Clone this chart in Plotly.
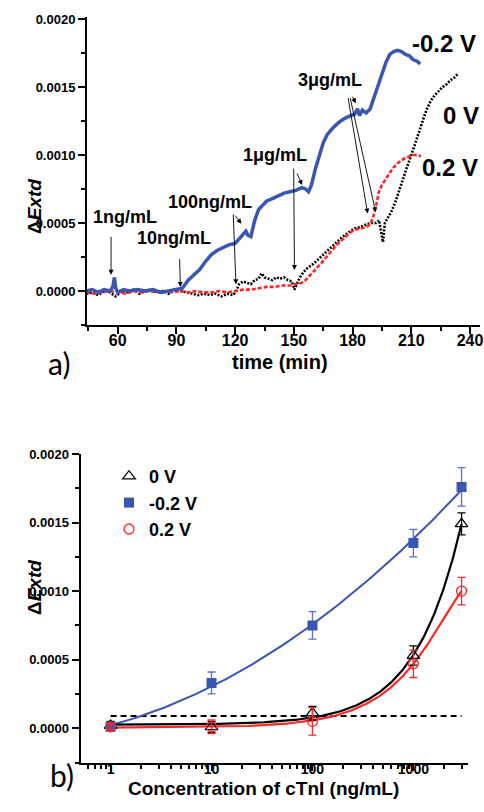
import numpy as np
import plotly.graph_objects as go

W, H = 484, 812

# ---------------- panel a) time traces ----------------
t_blue = [44, 47, 50, 53, 56, 57.5, 58.3, 59, 60, 63, 66, 70, 74, 78, 82, 86, 90, 93, 96, 99,
          102, 105, 108, 111, 114, 117, 120, 122, 124, 125.5, 126.5, 128, 130, 132, 134, 136,
          139, 142, 145, 148, 151, 154, 156, 157.5, 159, 161, 163, 165, 167, 170, 173, 176,
          179, 181, 182.5, 183.5, 185, 187, 189, 191, 193, 195, 197, 199, 201, 203, 205, 207,
          209, 211, 213, 214.5]
v_blue = [0.0, 0.00001, -0.00001, 0.00001, 0.0, 0.00003, 0.0001, 0.00002, -0.00001, 0.00001,
          0.0, 0.00001, 0.0, 0.00001, -0.00001, 0.0, 0.00001, 0.00002, 0.00008, 0.00012,
          0.00016, 0.00022, 0.00027, 0.0003, 0.00032, 0.00034, 0.00035, 0.00038, 0.00041,
          0.00044, 0.00041, 0.0004, 0.00052, 0.0006, 0.00063, 0.00066, 0.00068, 0.0007,
          0.00072, 0.00073, 0.00074, 0.00076, 0.00075, 0.00073, 0.00078, 0.0009, 0.001,
          0.00109, 0.00115, 0.0012, 0.00124, 0.00127, 0.00129, 0.0013, 0.00134, 0.00129,
          0.00133, 0.00131, 0.00134, 0.00143, 0.0015, 0.00159, 0.00168, 0.00174, 0.00176,
          0.00177, 0.00176, 0.00174, 0.00173, 0.0017, 0.00169, 0.00167]

t_black = [44, 47, 50, 53, 56, 59, 62, 65, 68, 71, 74, 77, 80, 83, 86, 89, 92, 95, 98, 101,
           104, 107, 110, 113, 116, 119, 120.5, 122, 124, 126, 128, 130, 132, 133.5, 135, 137,
           139, 141, 143, 145, 147, 149, 150.3, 151.5, 153, 155, 157, 160, 163, 166, 169, 172,
           175, 178, 181, 184, 187, 190, 192, 193.5, 194.5, 195.5, 196.5, 198, 200, 202, 204,
           206, 208, 210, 212, 214, 216, 218, 220, 222, 224, 226, 228, 230, 232, 234]
v_black = [-0.00002, -0.00001, -0.00003, 0.0, -0.00001, -0.00004, 0.0, -0.00001, 0.00001,
           -0.00002, 0.0, 0.00001, -0.00001, 0.0, -0.00002, 0.00001, 0.0, -0.00001, -0.00002,
           -0.00003, -0.00002, -0.00003, -0.00002, -0.00004, -0.00002, -0.00003, 0.0, 0.00005,
           0.00007, 0.00006, 0.00005, 0.00008, 0.00009, 0.00013, 0.0001, 0.00009, 0.00008,
           0.0001, 0.00009, 0.0001, 0.00008, 0.00007, 0.00001, 0.00005, 0.0001, 0.00014,
           0.00017, 0.0002, 0.00024, 0.00028, 0.00032, 0.00036, 0.0004, 0.00043, 0.00046,
           0.00047, 0.00049, 0.0005, 0.0005, 0.00052, 0.00044, 0.00036, 0.0005, 0.00054,
           0.00059, 0.00066, 0.00075, 0.00083, 0.00092, 0.001, 0.00108, 0.00117, 0.00126,
           0.00134, 0.0014, 0.00144, 0.00147, 0.0015, 0.00152, 0.00155, 0.00157, 0.0016]

t_red = [44, 48, 52, 56, 60, 64, 68, 72, 76, 80, 84, 88, 92, 96, 100, 104, 108, 112, 116, 120,
         124, 128, 132, 136, 140, 144, 148, 152, 154, 156, 158, 160, 163, 166, 169, 172, 175,
         178, 181, 184, 187, 189, 190.5, 192, 193.5, 195, 197, 199, 201, 203, 205, 207, 209,
         211, 213, 215]
v_red = [-0.00001, -0.00002, -0.00001, 0.0, -0.00001, -0.00002, 0.0, -0.00001, 0.0, -0.00001,
         0.0, -0.00001, 0.0, -0.00001, 0.0, -0.00001, -0.00001, 0.0, -0.00001, 0.0, 0.00001,
         0.00001, 0.00002, 0.00003, 0.00003, 0.00004, 0.00004, 0.00005, 0.00006, 0.00008,
         0.00011, 0.00014, 0.00019, 0.00024, 0.00029, 0.00034, 0.00038, 0.00042, 0.00045,
         0.00046, 0.00047, 0.00049, 0.00054, 0.00063, 0.00073, 0.00078, 0.00083, 0.00087,
         0.00091, 0.00094, 0.00096, 0.00098, 0.00099, 0.001, 0.001, 0.00099]

# injection labels (text, label time, label value)
inj_text = ["1ng/mL", "10ng/mL", "100ng/mL", "1\u03bcg/mL", "3\u03bcg/mL"]
inj_label_t = [63.5, 88.5, 107, 140.5, 168.5]
inj_label_v = [0.000545, 0.00039, 0.000655, 0.001, 0.00155]
# arrows: (tail t, tail v, head t, head v)
arrows = [
    (56.6, 0.00041, 56.6, 0.00012),
    (91.6, 0.000245, 92.0, 0.00003),
    (119.0, 0.000575, 120.4, 0.00005),
    (119.4, 0.000565, 123.2, 0.000495),
    (149.9, 0.00091, 150.3, 0.000155),
    (151.3, 0.000875, 154.2, 0.00078),
    (177.6, 0.00143, 187.7, 0.00057),
    (178.6, 0.00143, 191.8, 0.00058),
    (179.6, 0.00144, 181.6, 0.00138),
]
series_labels = ["-0.2 V", "0 V", "0.2 V"]
series_label_t = [226.5, 235.5, 230]
series_label_v = [0.00182, 0.00129, 0.00091]

# ---------------- panel b) calibration ----------------
conc = [1, 10, 100, 1000, 3000]
y_0V = [0.00002, 0.00001, 0.00011, 0.00053, 0.00149]
e_0V = [0.00003, 0.00004, 0.00005, 0.00007, 0.00008]
y_m02 = [0.00001, 0.00033, 0.00075, 0.00135, 0.00176]
e_m02 = [0.00003, 0.00008, 0.0001, 0.0001, 0.00014]
y_p02 = [0.00001, 0.00001, 0.00005, 0.00047, 0.0010]
e_p02 = [0.00002, 0.00005, 0.0001, 0.0001, 0.0001]
lod = 0.00009

BLUE = "#3b55b2"
RED = "#ff2626"
FONT = "Liberation Sans, Arial, sans-serif"

fig = go.Figure()

# ---- panel a traces ----
fig.add_trace(go.Scatter(x=t_black, y=v_black, mode="lines", xaxis="x", yaxis="y",
                         line=dict(color="black", width=2.6, dash="2px,1.5px"), showlegend=False))
fig.add_trace(go.Scatter(x=t_red, y=v_red, mode="lines", xaxis="x", yaxis="y",
                         line=dict(color=RED, width=2.6, dash="4px,2px"), showlegend=False))
fig.add_trace(go.Scatter(x=t_blue, y=v_blue, mode="lines", xaxis="x", yaxis="y",
                         line=dict(color=BLUE, width=3.5), showlegend=False))

# ---- panel b fits ----
xs = np.logspace(0, np.log10(conc[-1]), 300)
p_blue = np.polyfit(np.log10(conc), y_m02, 2)
p_black = np.polyfit(conc, y_0V, 2)
p_red = np.polyfit(conc, y_p02, 2)
fig.add_trace(go.Scatter(x=[conc[0], conc[-1]], y=[lod, lod], mode="lines", xaxis="x2", yaxis="y2",
                         line=dict(color="black", width=2, dash="6px,4px"), showlegend=False))
fig.add_trace(go.Scatter(x=xs, y=np.polyval(p_blue, np.log10(xs)), mode="lines", xaxis="x2", yaxis="y2",
                         line=dict(color=BLUE, width=2), showlegend=False))
fig.add_trace(go.Scatter(x=xs, y=np.polyval(p_black, xs), mode="lines", xaxis="x2", yaxis="y2",
                         line=dict(color="black", width=2.2), showlegend=False))
fig.add_trace(go.Scatter(x=xs, y=np.polyval(p_red, xs), mode="lines", xaxis="x2", yaxis="y2",
                         line=dict(color=RED, width=2.2), showlegend=False))

fig.add_trace(go.Scatter(x=conc, y=y_0V, mode="markers", name="0 V", xaxis="x2", yaxis="y2",
                         marker=dict(symbol="triangle-up-open", size=11, color="black",
                                     line=dict(width=1.3)),
                         error_y=dict(type="data", array=e_0V, color="black", thickness=1.3, width=4)))
fig.add_trace(go.Scatter(x=conc, y=y_m02, mode="markers", name="-0.2 V", xaxis="x2", yaxis="y2",
                         marker=dict(symbol="square", size=10, color=BLUE),
                         error_y=dict(type="data", array=e_m02, color="#5a72c4", thickness=1.3, width=4)))
fig.add_trace(go.Scatter(x=conc, y=y_p02, mode="markers", name="0.2 V", xaxis="x2", yaxis="y2",
                         marker=dict(symbol="circle-open", size=10, color=RED, line=dict(width=1.3)),
                         error_y=dict(type="data", array=e_p02, color=RED, thickness=1.3, width=4)))

def px_x(p):
    return p / W

def px_y(p):
    return 1 - p / H

axis_common = dict(showline=True, linewidth=2, linecolor="black", ticks="outside",
                   tickwidth=2, tickcolor="black", showgrid=False, zeroline=False,
                   automargin=False, ticklabeloverflow="allow")

annotations = []
for txt, t, v in zip(inj_text, inj_label_t, inj_label_v):
    annotations.append(dict(x=t, y=v, xref="x", yref="y", text="<b>%s</b>" % txt, showarrow=False,
                            font=dict(family=FONT, size=18, color="black")))
for (ta, va, th, vh) in arrows:
    annotations.append(dict(x=th, y=vh, ax=ta, ay=va, xref="x", yref="y", axref="x", ayref="y",
                            text="", showarrow=True, arrowhead=2, arrowsize=1.1, arrowwidth=0.9,
                            arrowcolor="black"))
for txt, t, v in zip(series_labels, series_label_t, series_label_v):
    annotations.append(dict(x=t, y=v, xref="x", yref="y", text="<b>%s</b>" % txt, showarrow=False,
                            font=dict(family=FONT, size=24, color="black")))

# axis titles / panel labels
annotations += [
    dict(x=px_x(22), y=px_y(177), xref="paper", yref="paper", text="<b>\u0394<i>Extd</i></b>",
         textangle=-90, showarrow=False, font=dict(family=FONT, size=19, color="black")),
    dict(x=px_x(280), y=px_y(362), xref="paper", yref="paper", text="<b>time (min)</b>",
         showarrow=False, font=dict(family=FONT, size=20, color="black")),
    dict(x=px_x(46), y=px_y(363), xref="paper", yref="paper", text="a)",
         showarrow=False, font=dict(family="Lato, sans-serif", size=30, color="black")),
    dict(x=px_x(22), y=px_y(617), xref="paper", yref="paper", text="<b>\u0394<i>Extd</i></b>",
         textangle=-90, showarrow=False, font=dict(family=FONT, size=19, color="black")),
    dict(x=px_x(263), y=px_y(801), xref="paper", yref="paper", text="<b>Concentration of cTnI (ng/mL)</b>",
         showarrow=False, font=dict(family=FONT, size=19, color="black")),
    dict(x=px_x(48), y=px_y(795), xref="paper", yref="paper", text="b)",
         showarrow=False, font=dict(family="Lato, sans-serif", size=30, color="black")),
]

minor_log = [m * 10 ** k for k in range(-1, 4) for m in range(2, 10)]

fig.update_layout(
    width=W, height=H, margin=dict(l=0, r=0, t=0, b=0, autoexpand=False),
    paper_bgcolor="white", plot_bgcolor="white",
    font=dict(family=FONT, color="black"),
    xaxis=dict(axis_common, domain=[px_x(87), px_x(480)], anchor="y",
               range=[44.3, 245.1], tickvals=[60, 90, 120, 150, 180, 210, 240], ticklen=7,
               ticklabelstandoff=-7,
               tickfont=dict(family=FONT, size=16, color="black", weight="bold"),
               minor=dict(ticks="outside", ticklen=4, tickwidth=2, tickcolor="black",
                          dtick=15, tick0=0)),
    yaxis=dict(axis_common, domain=[px_y(325), px_y(17)], anchor="x",
               range=[-0.00025, 0.002015], tickvals=[0, 0.0005, 0.001, 0.0015, 0.002],
               tickformat=".4f", ticklen=7,
               tickfont=dict(family=FONT, size=13, color="black", weight="bold"),
               minor=dict(ticks="outside", ticklen=4, tickwidth=2, tickcolor="black",
                          dtick=0.00025, tick0=0)),
    xaxis2=dict(axis_common, type="log", domain=[px_x(80.5), px_x(468)], anchor="y2",
                range=[-0.298, 3.541], tickvals=[1, 10, 100, 1000], ticktext=["1", "10", "100", "1000"],
                ticklen=6, ticklabelstandoff=-13,
                tickfont=dict(family=FONT, size=14, color="black", weight="bold"),
                minor=dict(ticks="outside", ticklen=4, tickwidth=2, tickcolor="black",
                           tickvals=minor_log)),
    yaxis2=dict(axis_common, domain=[px_y(762.5), px_y(454)], anchor="x2",
                range=[-0.00025, 0.002], tickvals=[0, 0.0005, 0.001, 0.0015, 0.002],
                tickformat=".4f", ticklen=7,
                tickfont=dict(family=FONT, size=13, color="black", weight="bold"),
                minor=dict(ticks="outside", ticklen=4, tickwidth=2, tickcolor="black",
                           dtick=0.00025, tick0=0)),
    showlegend=True,
    legend=dict(x=px_x(109), y=px_y(458), xanchor="left", yanchor="top",
                bgcolor="rgba(0,0,0,0)", traceorder="normal",
                font=dict(family=FONT, size=18, color="black", weight="bold"),
                itemsizing="trace"),
    annotations=annotations,
)

fig.write_html("out.html", config={"displayModeBar": False},
               post_script="document.body.style.margin='0';document.body.style.overflow='hidden';")
